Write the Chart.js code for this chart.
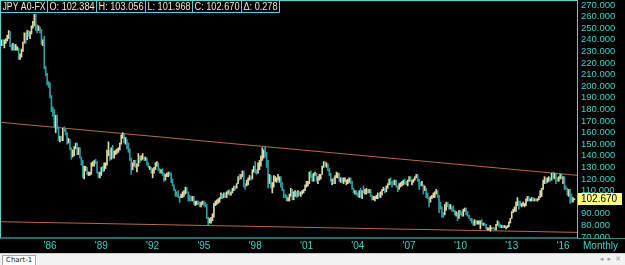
<!DOCTYPE html>
<html>
<head>
<meta charset="utf-8">
<script src="https://cdn.jsdelivr.net/npm/chart.js@4.4.1/dist/chart.umd.min.js"></script>
<style>
  html, body { margin: 0; padding: 0; background: #000; width: 625px; height: 265px; overflow: hidden; }
  #wrap { width: 625px; height: 253px; }
  .strip { position: relative; height: 11px; background: #f2f2f2; border-top: 1px solid #cfcfcf; font: 8px "DejaVu Sans", sans-serif; }
  .tab { position: absolute; left: 2px; top: 1px; height: 9px; line-height: 9px; padding: 0 3px; background: #fff; border: 1px solid #a8a8a8; border-bottom: none; color: #222; font-size: 7px; }
  .nav { position: absolute; right: 3px; top: 0; line-height: 11px; color: #999; font-size: 7px; letter-spacing: 1px; }
</style>
</head>
<body>
<div id="wrap"><canvas id="chart" width="625" height="253"></canvas></div>
<div class="strip"><span class="tab">Chart-1</span><span class="nav">◂ ▸ ✕</span></div>
<script>
// monthly USD/JPY bars, Jan 1983 .. Sep 2016
const firstYear = 1983;

const closes = [
  239,238,239,237,239,240,242,246,236,233,235,232,
  233,233,225,226,231,238,245,242,247,246,246,252,
  255,260,252,251,251,248,237,238,216,211,202,200,
  192,180,179,168,173,165,154,155,154,163,162,160,
  153,153,146,140,144,147,150,142,146,138,133,122,
  128,129,124,125,125,133,133,135,134,126,122,125,
  130,127,133,133,144,144,137,146,139,142,143,144,
  145,150,157,159,152,153,147,144,138,129,133,136,
  131,132,140,137,138,138,137,137,133,130,130,125,
  125,130,133,133,128,126,127,124,120,123,124,125,
  124,118,115,111,107,106,105,104,106,108,109,112,
  109,104,103,102,104,99,100,100,99,97,99,100,
  99,97,86,84,84,85,88,97,99,102,102,103,
  107,105,107,104,108,110,107,108,111,114,113,116,
  121,120,124,127,116,115,118,121,121,120,128,131,
  127,126,133,133,139,140,144,141,136,116,123,113,
  116,119,119,119,121,121,115,110,106,104,102,102,
  107,110,103,108,108,106,109,106,108,109,111,114,
  116,117,126,124,119,124,125,119,119,122,124,131,
  134,133,133,128,124,119,120,118,122,122,122,119,
  120,118,118,119,119,120,120,117,111,109,110,107,
  106,109,104,110,109,109,111,110,110,106,103,104,
  104,105,107,105,108,111,112,111,113,116,120,118,
  117,116,118,114,112,114,115,117,118,117,116,119,
  121,118,118,120,122,123,119,116,115,115,111,112,
  106,104,100,104,105,106,108,109,106,98,95,91,
  90,98,99,98,96,96,95,93,90,90,86,93,
  90,89,93,94,91,88,86,84,83,80,84,81,
  82,82,83,81,81,80,77,77,77,78,78,77,
  76,81,83,80,78,80,78,78,78,80,82,86,
  92,93,94,97,101,99,98,98,98,98,102,105,
  102,102,103,102,102,101,103,104,110,112,119,120,
  117,120,120,119,124,122,124,121,120,121,123,120,
  121,113,112,107,111,103,102,102.392,102.670
];

const highs = [
  240,240,240,240,240,241,244,248,247,236,237,236,
  236,234,233,228,232,238,246,246,248,248,247,252,
  256,262,262,253,252,251,249,240,243,217,211,204,
  203,192,182,180,175,175,165,157,157,164,165,163,
  160,155,154,147,145,148,151,151,147,147,139,136,
  131,131,130,126,126,134,135,136,137,135,126,126,
  130,131,134,134,145,152,145,147,149,144,145,146,
  147,151,158,160,159,156,154,151,146,138,134,136,
  136,133,142,140,140,142,139,139,138,134,131,130,
  129,130,134,135,134,129,128,129,125,124,125,126,
  126,125,120,115,111,109,110,105,107,109,110,113,
  113,109,106,105,105,105,101,101,101,100,100,101,
  101,100,98,87,86,87,90,99,101,102,103,104,
  108,107,108,108,109,110,111,109,112,114,114,116,
  122,124,124,127,127,116,119,121,123,122,128,131,
  135,128,134,136,140,147,145,148,143,136,124,123,
  117,123,122,121,124,122,122,117,111,107,106,104,
  107,112,111,109,110,109,110,109,109,110,111,115,
  118,118,126,127,124,125,126,125,122,124,124,131,
  135,135,134,133,129,125,120,121,123,126,125,125,
  121,121,121,121,119,120,121,121,118,112,110,110,
  108,110,112,110,114,111,112,111,111,111,106,105,
  105,106,108,108,109,111,113,112,114,116,120,121,
  118,119,119,119,114,116,117,118,119,120,118,119,
  122,122,119,120,122,124,124,120,117,118,115,114,
  112,108,104,105,106,108,109,111,110,106,100,96,
  91,98,100,100,98,98,96,97,93,92,91,93,
  93,92,94,95,95,92,89,86,86,84,85,84,
  84,84,84,85,82,82,81,78,78,80,78,78,
  78,81,84,83,81,80,80,80,79,80,83,86,
  92,94,96,100,104,101,101,99,100,99,103,105,
  105,103,104,104,103,103,103,105,110,112,119,122,
  121,121,122,121,125,126,125,125,121,122,124,124,
  122,122,114,112,111,111,107,104,103.056
];

const lows = [
  228,233,235,235,233,237,239,241,234,231,231,231,
  231,231,223,223,225,230,237,237,240,243,241,245,
  250,252,248,246,248,246,236,235,215,209,201,199,
  190,178,174,165,160,163,153,152,153,153,161,158,
  150,151,145,137,139,140,146,141,141,138,132,121,
  120,127,124,123,123,124,131,131,133,125,121,121,
  123,126,127,129,132,140,136,137,138,138,141,142,
  143,145,150,155,151,150,146,143,136,124,128,131,
  130,126,131,134,136,137,136,136,132,130,128,125,
  121,125,128,131,127,125,125,123,118,119,122,122,
  123,117,114,110,105,105,104,100,104,104,105,107,
  108,101,101,101,101,98,97,98,98,96,96,98,
  97,96,86,80,82,82,84,87,97,98,99,100,
  103,103,104,104,104,107,106,106,108,110,111,112,
  116,119,120,122,113,111,114,115,119,119,120,126,
  125,124,125,128,131,136,138,139,130,112,116,112,
  108,113,118,117,119,117,113,110,104,104,101,101,
  101,105,102,102,105,104,105,106,105,107,108,110,
  113,114,116,121,118,118,123,118,116,119,120,124,
  130,131,130,127,123,118,115,116,116,121,121,118,
  117,117,116,118,115,116,117,116,111,108,107,106,
  105,104,104,103,108,107,107,108,108,105,102,102,
  101,103,103,104,104,106,110,108,109,112,115,115,
  113,115,115,113,109,111,113,114,115,116,115,114,
  118,118,115,117,119,121,118,111,114,114,107,110,
  104,103,96,100,103,104,104,107,104,91,94,87,
  87,89,93,96,94,94,92,92,89,88,84,86,
  89,88,88,92,89,88,86,84,82,80,80,81,
  81,81,77,81,80,80,77,76,76,75,77,77,
  76,76,80,79,78,78,78,78,77,78,79,82,
  86,91,92,92,97,94,97,96,97,96,97,101,
  101,101,101,101,101,101,101,102,104,105,111,116,
  116,117,118,118,119,121,120,116,118,118,120,120,
  116,111,111,106,105,99,100,100,101.968
];

// last bar quote shown in the header
const lastQuote = [102.384, 103.056, 101.968, 102.670, 0.278];

// x axis labels (January of each year)
const tickYears = [1986, 1989, 1992, 1995, 1998, 2001, 2004, 2007, 2010, 2013, 2016];
const tickLabels = ["'86", "'89", "'92", "'95", "'98", "'01", "'04", "'07", "'10", "'13", "'16"];

// price axis labels
const priceTicks = [70, 80, 90, 100, 110, 120, 130, 140, 150, 160, 170,
  180, 190, 200, 210, 220, 230, 240, 250, 260, 270];

// trend lines: value at left edge, value at right edge
const upperTrend = [168.9, 123.2];
const lowerTrend = [83.2, 74.0];

const X_MIN = 0.91, X_MAX = 405.8;
const TEAL = '#2f9fa6', CREAM = '#e0dba4', AXIS = '#3fd3c8', FRAME = '#4fd4dc', TREND = '#b86a4c';

const bars = closes.map((c, i) => ({ x: i, y: [lows[i], highs[i]] }));
const barColors = closes.map((c, i) => (i > 0 && c < closes[i - 1]) ? TEAL : CREAM);

const decor = {
  id: 'decor',
  beforeDraw(chart) {
    const ctx = chart.ctx;
    ctx.save();
    ctx.fillStyle = '#000';
    ctx.fillRect(0, 0, chart.width, chart.height);
    ctx.restore();
  },
  afterDraw(chart) {
    const { ctx, chartArea: a, scales } = chart;
    ctx.save();
    // hide lower half of the cut-off 70 label
    ctx.fillStyle = '#000';
    ctx.fillRect(a.right + 1, a.bottom, chart.width - a.right, chart.height - a.bottom);

    // frame
    ctx.strokeStyle = FRAME;
    ctx.lineWidth = 1;
    ctx.strokeRect(0.5, 0.5, a.right, a.bottom - 0.5);
    ctx.strokeStyle = '#3a8a8e';
    ctx.beginPath();
    ctx.moveTo(a.right, a.bottom + 0.5);
    ctx.lineTo(chart.width, a.bottom + 0.5);
    ctx.stroke();

    ctx.font = '10px "Liberation Sans", sans-serif';
    ctx.textBaseline = 'middle';
    ctx.fillStyle = AXIS;
    ctx.fillText('Monthly', a.right + 6, 246);

    // last close box
    const yy = Math.round(scales.y.getPixelForValue(lastQuote[3]));
    ctx.fillStyle = '#ffff84';
    ctx.fillRect(a.right + 1, yy - 6, 44, 12);
    ctx.fillStyle = '#000';
    ctx.fillText(lastQuote[3].toFixed(3), a.right + 4, yy + 0.5);

    // header quote cells
    const cells = ['JPY A0-FX', 'O: ' + lastQuote[0].toFixed(3), 'H: ' + lastQuote[1].toFixed(3),
      'L: ' + lastQuote[2].toFixed(3), 'C: ' + lastQuote[3].toFixed(3), '\u0394: ' + lastQuote[4].toFixed(3)];
    const edges = [0, 47, 96, 145, 192, 241, 279];
    ctx.fillStyle = '#000';
    ctx.fillRect(0, 0, edges[edges.length - 1], 12);
    ctx.strokeStyle = FRAME;
    ctx.beginPath();
    ctx.moveTo(0, 12.5); ctx.lineTo(edges[edges.length - 1] + 0.5, 12.5);
    ctx.moveTo(0, 0.5); ctx.lineTo(edges[edges.length - 1] + 0.5, 0.5);
    edges.forEach(e => { ctx.moveTo(e + 0.5, 0); ctx.lineTo(e + 0.5, 13); });
    ctx.stroke();
    ctx.fillStyle = '#eeeccc';
    ctx.font = '10px "Liberation Sans", sans-serif';
    cells.forEach((t, i) => {
      ctx.fillText(t, edges[i] + 2.5, 7, edges[i + 1] - edges[i] - 4);
    });
    ctx.restore();
  }
};

new Chart(document.getElementById('chart'), {
  type: 'bar',
  data: {
    datasets: [
      {
        type: 'line',
        data: [{ x: X_MIN, y: upperTrend[0] }, { x: X_MAX, y: upperTrend[1] }],
        borderColor: TREND, borderWidth: 1, pointRadius: 0, order: 2
      },
      {
        type: 'line',
        data: [{ x: X_MIN, y: lowerTrend[0] }, { x: X_MAX, y: lowerTrend[1] }],
        borderColor: TREND, borderWidth: 1, pointRadius: 0, order: 2
      },
      {
        data: bars,
        backgroundColor: barColors,
        borderWidth: 0,
        barThickness: 1,
        grouped: false,
        order: 1
      }
    ]
  },
  options: {
    responsive: false,
    animation: false,
    devicePixelRatio: 1,
    layout: { padding: 0 },
    plugins: { legend: { display: false }, tooltip: { enabled: false } },
    scales: {
      x: {
        type: 'linear',
        min: X_MIN,
        max: X_MAX,
        offset: false,
        grid: { display: false, drawTicks: false },
        border: { display: false },
        afterBuildTicks: s => { s.ticks = tickYears.map(yr => ({ value: (yr - firstYear) * 12 })); },
        afterFit: s => { s.height = 15; s.paddingLeft = 0; s.paddingRight = 0; },
        ticks: {
          autoSkip: false,
          maxRotation: 0,
          padding: 2,
          color: AXIS,
          font: { family: 'Liberation Sans', size: 10 },
          callback: (v, i) => tickLabels[i]
        }
      },
      y: {
        position: 'right',
        min: 69.14,
        max: 274.31,
        grid: { display: false, drawTicks: false },
        border: { display: false },
        afterBuildTicks: s => { s.ticks = priceTicks.map(v => ({ value: v })); },
        afterFit: s => { s.width = 48; s.paddingTop = 0; s.paddingBottom = 0; },
        ticks: {
          autoSkip: false,
          padding: 4,
          color: AXIS,
          font: { family: 'Liberation Sans', size: 9.5 },
          callback: v => v.toFixed(3)
        }
      }
    }
  },
  plugins: [decor]
});
</script>
</body>
</html>
